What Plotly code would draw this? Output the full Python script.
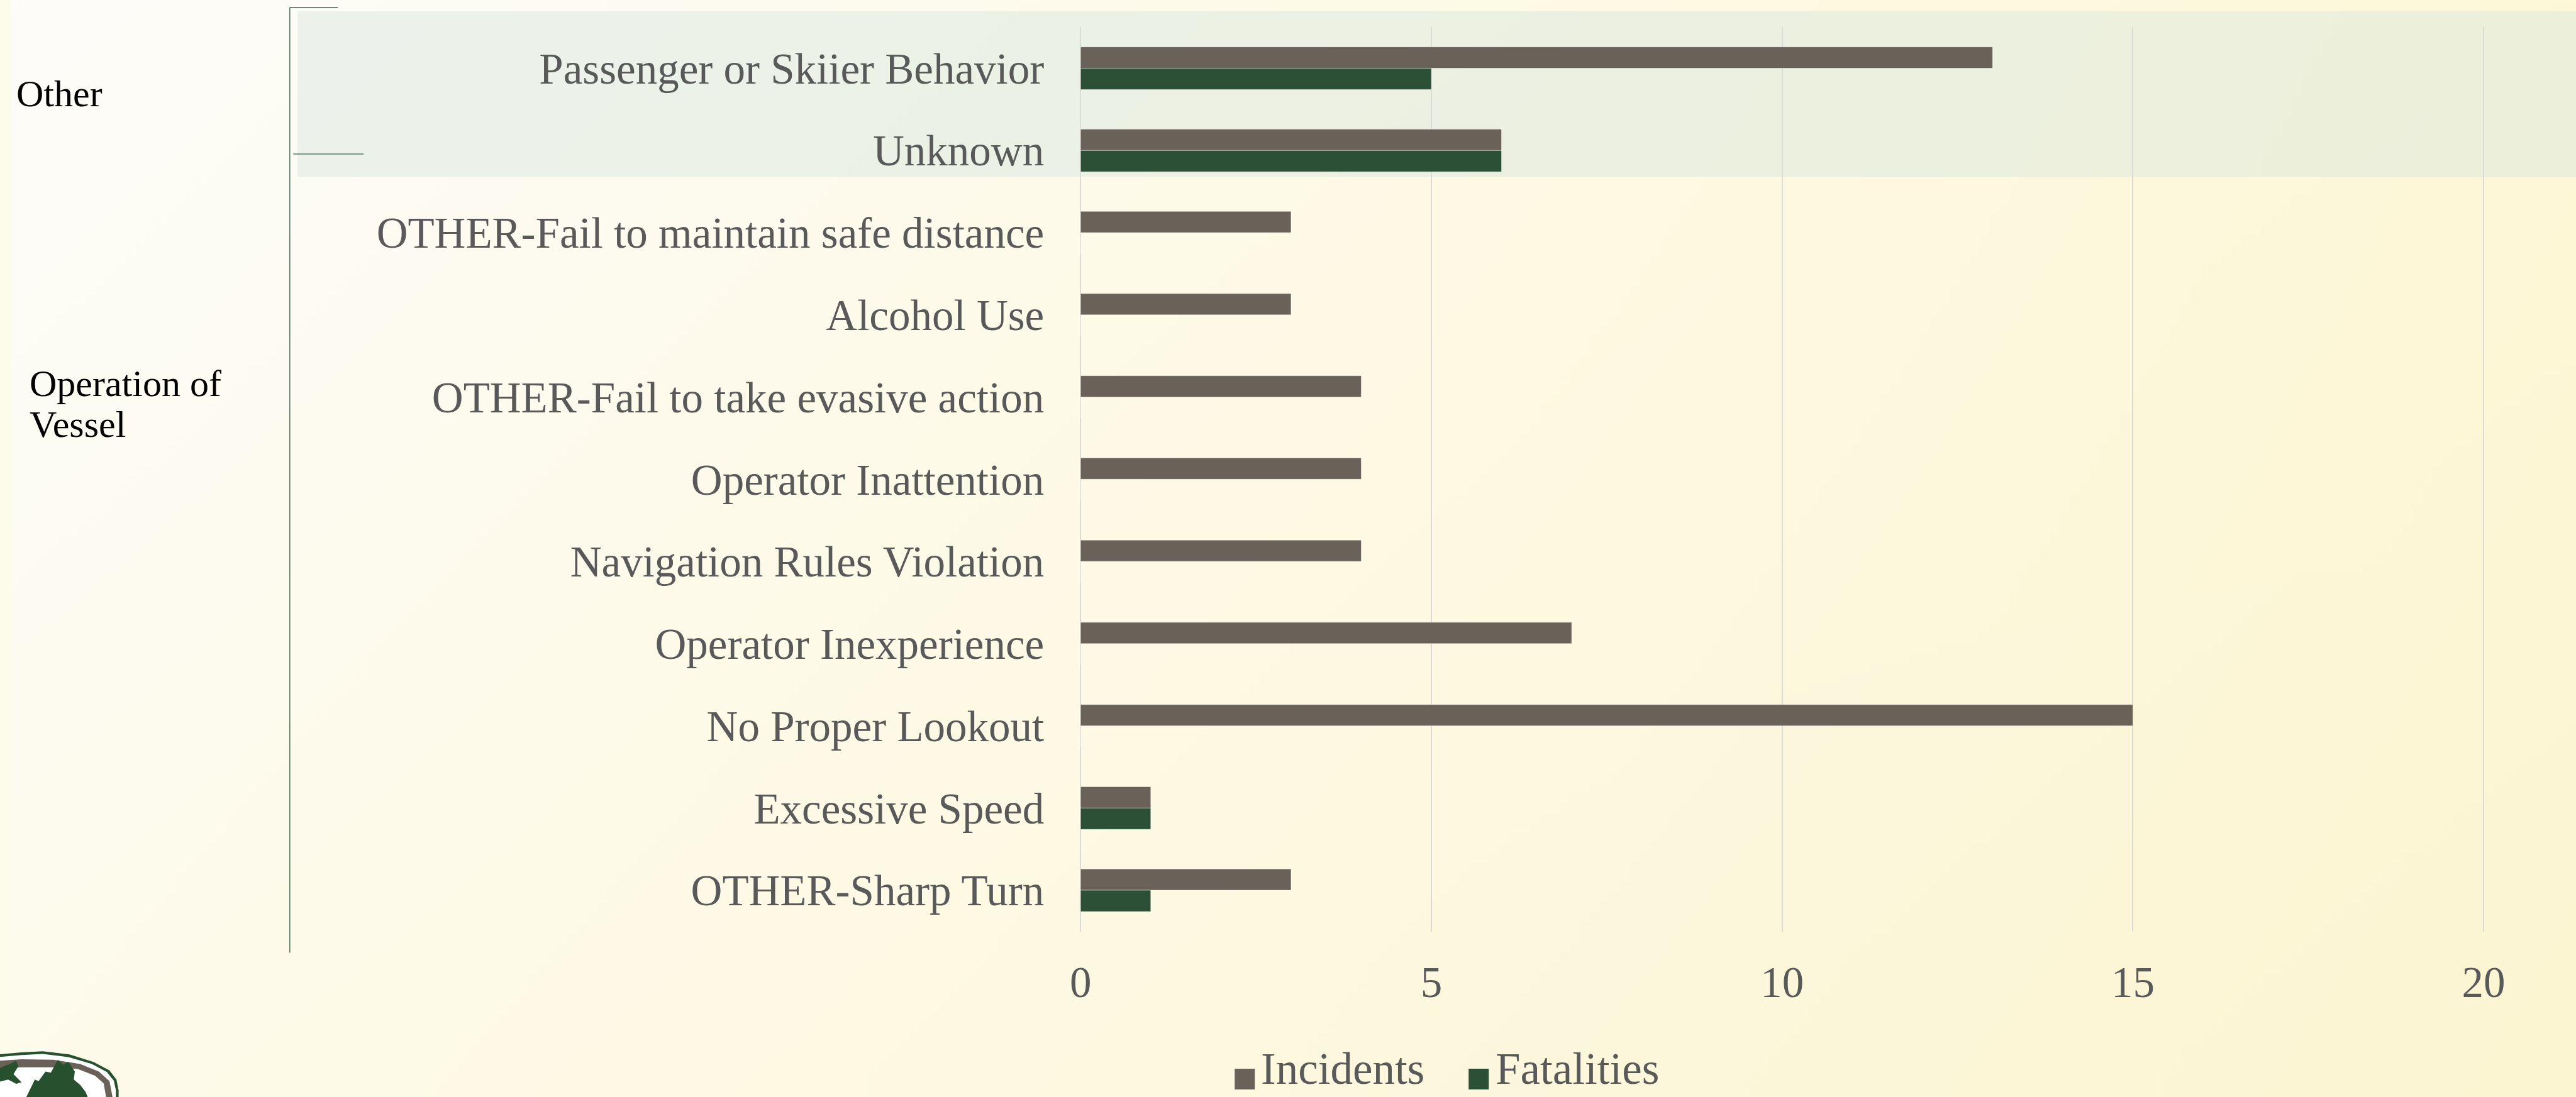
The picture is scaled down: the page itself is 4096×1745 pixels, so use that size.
import base64
import struct
import zlib
import numpy as np
import plotly.graph_objects as go

# ---------------- data ----------------
categories = [
    "Passenger or Skiier Behavior",
    "Unknown",
    "OTHER-Fail to maintain safe distance",
    "Alcohol Use",
    "OTHER-Fail to take evasive action",
    "Operator Inattention",
    "Navigation Rules Violation",
    "Operator Inexperience",
    "No Proper Lookout",
    "Excessive Speed",
    "OTHER-Sharp Turn",
]
incidents = [13, 6, 3, 3, 4, 4, 4, 7, 15, 1, 3]
fatalities = [5, 6, 0, 0, 0, 0, 0, 0, 0, 1, 1]
x_ticks = [0, 5, 10, 15, 20]
series_names = ["Incidents", "Fatalities"]
group_other = "Other"
group_vessel = ["Operation of", "Vessel"]

# ---------------- styling ----------------
W, H = 4096, 1745
FONT = "Liberation Serif, Georgia, serif"
C_INC = "#6A6258"
C_FAT = "#2C5036"
LABEL_GRAY = "#595959"

# horizontal compensation measured from previous render
OFF, SC = 16.7, 0.9959


def X(px):
    return ((px - OFF) / SC) / W


def Y(py):
    return 1 - py / H


def make_png(arr):
    h, w, _ = arr.shape
    raw = b"".join(b"\x00" + arr[r].tobytes() for r in range(h))

    def chunk(t, d):
        c = struct.pack(">I", len(d)) + t + d
        return c + struct.pack(">I", zlib.crc32(t + d) & 0xFFFFFFFF)

    png = (b"\x89PNG\r\n\x1a\n"
           + chunk(b"IHDR", struct.pack(">IIBBBBB", w, h, 8, 2, 0, 0, 0))
           + chunk(b"IDAT", zlib.compress(raw, 9))
           + chunk(b"IEND", b""))
    return "data:image/png;base64," + base64.b64encode(png).decode()


# background gradient (bilinear between corner colours)
gw, gh = 256, 110
tl = np.array([253, 253, 250], float)
tr = np.array([254, 248, 216], float)
bl = np.array([254, 251, 235], float)
br = np.array([252, 245, 210], float)
u = np.linspace(0, 1, gw)[None, :, None]
v = np.linspace(0, 1, gh)[:, None, None]
grad = (tl * (1 - u) * (1 - v) + tr * u * (1 - v) + bl * (1 - u) * v + br * u * v)
bg_src = make_png(np.clip(grad, 0, 255).astype(np.uint8))

# plot-area geometry (desired output pixels)
dom_x0 = X(1718.0)
dom_x20 = X(3949.0)
x_max = 20 * (1.0 - dom_x0) / (dom_x20 - dom_x0)
plot_top_px, plot_bot_px = 43.2, 1481.5

fig = go.Figure()
fig.add_trace(go.Bar(
    y=categories, x=incidents, name=series_names[0], orientation="h",
    marker=dict(color=C_INC, line=dict(color="rgba(255,255,255,0.45)", width=1)),
))
fig.add_trace(go.Bar(
    y=categories, x=fatalities, name=series_names[1], orientation="h",
    marker=dict(color=C_FAT, line=dict(color="rgba(255,255,255,0.45)", width=1)),
))

shapes = []
# green highlight band
shapes.append(dict(type="rect", xref="paper", yref="paper",
                   x0=X(473), x1=1.0, y0=Y(281.5), y1=Y(17.8),
                   fillcolor="rgba(213,228,221,0.42)", line=dict(width=0), layer="below"))
# bracket lines
BR = "#5B7B67"
shapes.append(dict(type="line", xref="paper", yref="paper",
                   x0=X(460.5), x1=X(460.5), y0=Y(11.9), y1=Y(1515.4),
                   line=dict(color=BR, width=1.6)))
shapes.append(dict(type="line", xref="paper", yref="paper",
                   x0=X(460.5), x1=X(537), y0=Y(11.9), y1=Y(11.9),
                   line=dict(color=BR, width=1.6)))
shapes.append(dict(type="line", xref="paper", yref="paper",
                   x0=X(466), x1=X(578), y0=Y(245), y1=Y(245),
                   line=dict(color=BR, width=1.6)))

# legend squares
shapes.append(dict(type="rect", xref="paper", yref="paper",
                   x0=X(1963), x1=X(1995), y0=Y(1733), y1=Y(1700),
                   fillcolor=C_INC, line=dict(width=0)))
shapes.append(dict(type="rect", xref="paper", yref="paper",
                   x0=X(2335), x1=X(2367), y0=Y(1733), y1=Y(1700),
                   fillcolor=C_FAT, line=dict(width=0)))


# decorative logo (partial badge bottom-left), points in reference px
def path_from(pts, close=True):
    s = 0.848
    d = "M " + " L ".join(f"{X(px * s):.5f},{Y(py * s):.5f}" for px, py in pts)
    return d + (" Z" if close else "")


outer = [(-5, 1978), (40, 1974), (80, 1972), (130, 1978), (175, 1992), (205, 2008),
         (218, 2025), (222, 2045), (222, 2060), (-5, 2060)]
inner = [(-5, 1983), (40, 1979), (80, 1977), (128, 1983), (172, 1996), (200, 2011),
         (213, 2027), (217, 2045), (217, 2060), (-5, 2060)]
band = [(-5, 1990), (40, 1987), (100, 1988), (150, 1996), (185, 2010), (205, 2028),
        (211, 2060), (199, 2060), (194, 2032), (178, 2018), (145, 2005), (100, 2002),
        (40, 2002), (-5, 2005)]
inner2 = [(-5, 2006), (40, 2004), (100, 2004), (143, 2008), (175, 2021), (191, 2035),
          (196, 2060), (-5, 2060)]
tree = [(48, 2060), (65, 2025), (72, 2028), (85, 2010), (95, 2012), (108, 1988),
        (118, 1997), (128, 1992), (140, 2010), (138, 2025), (150, 2035), (160, 2048),
        (165, 2060)]
bird = [(-5, 2005), (20, 1995), (30, 1990), (34, 2000), (25, 2015), (40, 2030),
        (30, 2033), (15, 2025), (-5, 2030)]
for pts, col in [(outer, "#27502F"), (inner, "#FFFFFF"), (band, "#6A6258"),
                 (inner2, "#FFFFFF"), (tree, "#27502F"), (bird, "#27502F")]:
    shapes.append(dict(type="path", xref="paper", yref="paper", path=path_from(pts),
                       fillcolor=col, line=dict(width=0)))

annotations = []
GF = dict(family=FONT, size=60, color="#000000")
annotations.append(dict(text=group_other, xref="paper", yref="paper", x=X(24), y=Y(149),
                        xanchor="left", yanchor="middle", showarrow=False, font=GF))
annotations.append(dict(text=group_vessel[0], xref="paper", yref="paper", x=X(45), y=Y(610),
                        xanchor="left", yanchor="middle", showarrow=False, font=GF))
annotations.append(dict(text=group_vessel[1], xref="paper", yref="paper", x=X(45), y=Y(675),
                        xanchor="left", yanchor="middle", showarrow=False, font=GF))
LF = dict(family=FONT, size=71, color=LABEL_GRAY)
annotations.append(dict(text=series_names[0], xref="paper", yref="paper", x=X(2003), y=Y(1700),
                        xanchor="left", yanchor="middle", showarrow=False, font=LF))
annotations.append(dict(text=series_names[1], xref="paper", yref="paper", x=X(2376), y=Y(1700),
                        xanchor="left", yanchor="middle", showarrow=False, font=LF))

fig.update_layout(
    width=W, height=H,
    margin=dict(l=0, r=0, t=0, b=0, pad=0),
    paper_bgcolor="#FDFBEA",
    plot_bgcolor="rgba(0,0,0,0)",
    barmode="group",
    bargap=0.481,
    bargroupgap=0,
    showlegend=False,
    font=dict(family=FONT, color=LABEL_GRAY),
    images=[dict(source=bg_src, xref="paper", yref="paper", x=0, y=1, sizex=1, sizey=1,
                 sizing="stretch", xanchor="left", yanchor="top", layer="below")],
    shapes=shapes,
    annotations=annotations,
    xaxis=dict(
        domain=[dom_x0, 1.0], range=[0, x_max], tickvals=x_ticks,
        showgrid=True, gridcolor="#DADAD6", gridwidth=1.6,
        zeroline=True, zerolinecolor="#DADAD6", zerolinewidth=1.6,
        showline=False, ticks="", ticklabelstandoff=34,
        tickfont=dict(family=FONT, size=69, color=LABEL_GRAY),
        fixedrange=True,
    ),
    yaxis=dict(
        domain=[Y(plot_bot_px), Y(plot_top_px)], type="category",
        categoryorder="array", categoryarray=categories,
        range=[len(categories) - 0.5, -0.5],
        showgrid=False, zeroline=False, showline=False, ticks="",
        ticklabelstandoff=57,
        tickfont=dict(family=FONT, size=69, color=LABEL_GRAY),
        fixedrange=True,
    ),
)

post = (
    "document.documentElement.style.margin='0';"
    "document.body.style.margin='0';"
    "document.body.style.overflow='hidden';"
)
fig.write_html("out.html", config={"displayModeBar": False}, post_script=post)
